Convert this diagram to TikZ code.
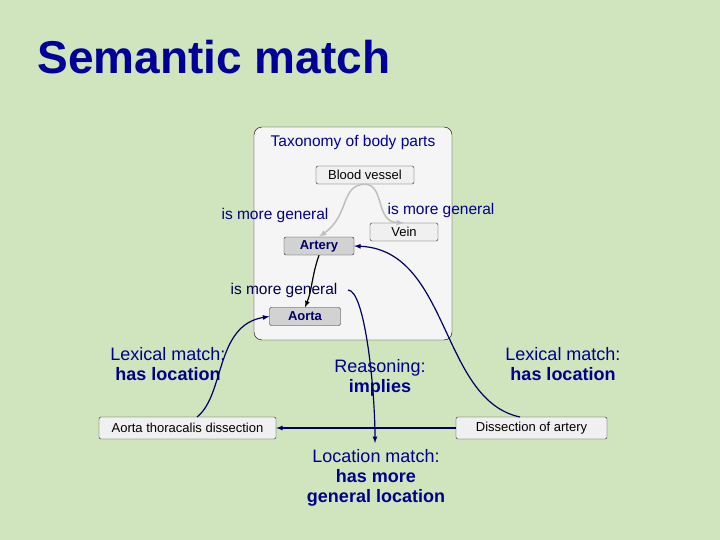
\documentclass[tikz,border=0pt]{standalone}
\usepackage{fontspec}
\setmainfont{Liberation Sans}
\definecolor{bg}{RGB}{208,228,190}
\begin{document}
\begin{tikzpicture}[x=1pt,y=-1pt,
 bx/.style={draw=black!85,fill=gray!12,rounded corners=2pt,minimum height=18pt,font=\fontsize{13}{15}\selectfont,inner sep=1pt},
 bxd/.style={bx,fill=gray!35,text=blue!40!black,font=\fontsize{13}{15}\selectfont\bfseries},
 lbl/.style={text=blue!55!black,font=\fontsize{18}{20}\selectfont,align=center},
 sml/.style={lbl,font=\fontsize{15.5}{17}\selectfont},
 arr/.style={draw=blue!40!black,line width=1.2pt,-latex}]
\useasboundingbox[fill=bg] (0,0) rectangle (720,540);
\node[text=blue!60!black,font=\fontsize{46}{50}\selectfont\bfseries,anchor=west] (title) at (34,57) {Semantic match};
\node[draw=black,fill=gray!8,rounded corners=8pt,minimum width=198pt,minimum height=213pt] (tax) at (353,233.5) {};
\node[text=blue!60!black,font=\fontsize{15.5}{17}\selectfont] (taxl) at (353,142) {Taxonomy of body parts};
\node[bx,minimum width=98pt] (bv) at (365,175) {Blood vessel};
\node[bx,minimum width=68pt] (vein) at (404,232) {Vein};
\node[bxd,minimum width=70pt] (art) at (319,246) {Artery};
\node[bxd,minimum width=71pt] (aor) at (305,316.5) {Aorta};
\node[sml] (l1) at (275,215) {is more general};
\node[sml] (l2) at (441,210) {is more general};
\node[sml,text=black!70!blue] (l3) at (284,290) {is more general};
\node[bx,minimum width=177pt,minimum height=22pt] (atd) at (187.5,428) {Aorta thoracalis dissection};
\node[bx,minimum width=151pt,minimum height=22pt] (doa) at (531.5,428) {Dissection of artery};
\node[lbl] (lx1) at (168,364) {Lexical match:\\\textbf{has location}};
\node[lbl] (lx2) at (563,364) {Lexical match:\\\textbf{has location}};
\node[lbl] (rs) at (380,378) {Reasoning:\\\textbf{implies}};
\node[lbl] (lm) at (376,478) {Location match:\\\textbf{has more}\\\textbf{general location}};
\draw[gray!50,line width=1.5pt,-latex] (bv.south) .. controls (340,185) and (350,215) .. (art.north);
\draw[gray!50,line width=1.5pt,-latex] (bv.south) .. controls (385,185) and (375,222) .. (vein.north);
\draw[black,line width=1.2pt,-latex] (art.south) .. controls (312,275) and (312,290) .. (aor.north);
\draw[arr] (doa.west) -- (atd.east);
\draw[arr] (197,417) .. controls (225,395) and (215,325) .. (aor.west);
\draw[arr] (520,417) .. controls (440,400) and (450,250) .. (art.east);
\draw[arr] (348,290) .. controls (365,290) and (375,390) .. (375,443);
\end{tikzpicture}
\end{document}
